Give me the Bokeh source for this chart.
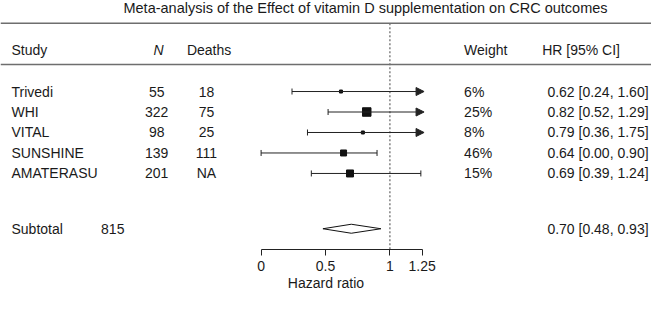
from bokeh.plotting import figure
from bokeh.models import Range1d, LinearAxis, FixedTicker, ColumnDataSource, Arrow, NormalHead, Span
from bokeh.core.properties import value
from bokeh.embed import file_html
from bokeh.resources import INLINE

# ---- data ----
title = "Meta-analysis of the Effect of vitamin D supplementation on CRC outcomes"
studies = ["Trivedi", "WHI", "VITAL", "SUNSHINE", "AMATERASU"]
n_pts = [55, 322, 98, 139, 201]
deaths = ["18", "75", "25", "111", "NA"]
weights = [6, 25, 8, 46, 15]
hr = [0.62, 0.82, 0.79, 0.64, 0.69]
hr_lo = [0.24, 0.52, 0.36, 0.00, 0.39]
hr_hi = [1.60, 1.29, 1.75, 0.90, 1.24]
sub_n = 815
sub_hr, sub_lo, sub_hi = 0.70, 0.48, 0.93
ticks = [0, 0.5, 1, 1.25]
tick_labels = ["0", "0.5", "1", "1.25"]

# ---- styling / layout constants ----
W, H = 651, 293
SX, SY = W / 667.0, H / 309.0          # reference layout squeezed into the figure
BOX_PX = [3, 8.5, 3, 6, 7]
FONT = value("Liberation Sans")
FS = "14px"
TXT = "#1a1a1a"
X_ZERO = 267 * SX
PX_PER_UNIT = 132 * SX
BOTTOM_PANEL = 44
Y_AXIS = H - BOTTOM_PANEL
Y_TITLE, Y_RULE1, Y_HEAD, Y_RULE2 = 7.5, 24 * SY, 52 * SY, 67.5 * SY
Y_ROW0, ROW_STEP = 96 * SY, 21.6 * SY
Y_SUB = 240.7 * SY
AX_MAX = ticks[-1]

x0 = (0 - X_ZERO) / PX_PER_UNIT
x1 = (W - X_ZERO) / PX_PER_UNIT

p = figure(width=W, height=H, output_backend="svg", toolbar_location=None,
           x_range=Range1d(x0, x1), y_range=Range1d(Y_AXIS, 0),
           x_axis_location=None, y_axis_location=None,
           min_border_left=0, min_border_right=0, min_border_top=0,
           min_border_bottom=BOTTOM_PANEL)
p.extra_x_ranges = {"px": Range1d(0, W)}
p.xgrid.visible = False
p.ygrid.visible = False
p.outline_line_color = None
p.background_fill_color = "white"
p.border_fill_color = "white"

rows_y = [Y_ROW0 + i * ROW_STEP for i in range(len(studies))]

def txt(x, y, t, align="left", size=FS, style="normal"):
    p.text(x=x, y=y, text=t, x_range_name="px", text_font=FONT, text_font_size=size,
           text_align=align, text_baseline="middle", text_color=TXT, text_font_style=style)

# title & header
txt([374 * SX], [Y_TITLE], [title], align="center", size="14.5px")
p.add_layout(Span(location=Y_RULE1, dimension="width", line_color="#6e6e6e", line_width=1.6))
p.add_layout(Span(location=Y_RULE2, dimension="width", line_color="#6e6e6e", line_width=1.6))
txt([11], [Y_HEAD], ["Study"])
txt([162 * SX], [Y_HEAD], ["N"], align="center", style="italic")
txt([191 * SX], [Y_HEAD], ["Deaths"])
txt([475 * SX], [Y_HEAD], ["Weight"])
txt([555 * SX], [Y_HEAD], ["HR [95% CI]"])

# study rows
txt([11] * 5, rows_y, studies)
txt([160 * SX] * 5, rows_y, [str(v) for v in n_pts], align="center")
txt([211 * SX] * 5, rows_y, deaths, align="center")
txt([475 * SX] * 5, rows_y, [f"{w}%" for w in weights])
txt([664 * SX] * 5, rows_y, [f"{h:.2f} [{l:.2f}, {u:.2f}]" for h, l, u in zip(hr, hr_lo, hr_hi)], align="right")

# subtotal row
txt([11], [Y_SUB], ["Subtotal"])
txt([115 * SX], [Y_SUB], [str(sub_n)], align="center")
txt([664 * SX], [Y_SUB], [f"{sub_hr:.2f} [{sub_lo:.2f}, {sub_hi:.2f}]"], align="right")

# reference line at HR = 1
p.segment(x0=[1], y0=[Y_RULE1], x1=[1], y1=[Y_AXIS], line_color="#444444",
          line_width=1, line_dash="2 2")

# CI lines
clipped = [h > AX_MAX for h in hr_hi]
inside = [i for i, c in enumerate(clipped) if not c]
outside = [i for i, c in enumerate(clipped) if c]
LC = "#222222"
p.segment(x0=[hr_lo[i] for i in inside], y0=[rows_y[i] for i in inside],
          x1=[hr_hi[i] for i in inside], y1=[rows_y[i] for i in inside],
          line_color=LC, line_width=1)
arr_src = ColumnDataSource(dict(xs=[hr_lo[i] for i in outside], ys=[rows_y[i] for i in outside],
                                xe=[AX_MAX + 0.015 for i in outside]))
p.add_layout(Arrow(x_start="xs", y_start="ys", x_end="xe", y_end="ys", source=arr_src,
                   line_color=LC, line_width=1,
                   end=NormalHead(size=8, fill_color=LC, line_color=LC, line_width=1)))
# end ticks
p.segment(x0=hr_lo, y0=[y - 3 for y in rows_y], x1=hr_lo, y1=[y + 3 for y in rows_y],
          line_color=LC, line_width=1)
p.segment(x0=[hr_hi[i] for i in inside], y0=[rows_y[i] - 3 for i in inside],
          x1=[hr_hi[i] for i in inside], y1=[rows_y[i] + 3 for i in inside],
          line_color=LC, line_width=1)
# boxes
p.scatter(x=hr, y=rows_y, size=BOX_PX, marker="square", fill_color="#111111", line_color="#111111")

# summary diamond
p.patch(x=[sub_lo, sub_hr, sub_hi, sub_hr], y=[Y_SUB, Y_SUB - 4.5, Y_SUB, Y_SUB + 4.5],
        fill_color="white", line_color="#111111", line_width=1)

# axis
ax = LinearAxis(ticker=FixedTicker(ticks=ticks), bounds=(ticks[0], ticks[-1]),
                major_label_overrides={t: l for t, l in zip(ticks, tick_labels)},
                axis_label="Hazard ratio")
ax.axis_line_color = "#222222"
ax.major_tick_line_color = "#222222"
ax.major_tick_in = 0
ax.major_tick_out = 6
ax.minor_tick_line_color = None
ax.major_label_standoff = 5
ax.major_label_text_font = "Liberation Sans"
ax.major_label_text_font_size = FS
ax.major_label_text_color = TXT
ax.axis_label_text_font = "Liberation Sans"
ax.axis_label_text_font_size = FS
ax.axis_label_text_font_style = "normal"
ax.axis_label_text_color = TXT
ax.axis_label_standoff = 1
p.add_layout(ax, "below")

open("out.html", "w").write(file_html(p, INLINE))
